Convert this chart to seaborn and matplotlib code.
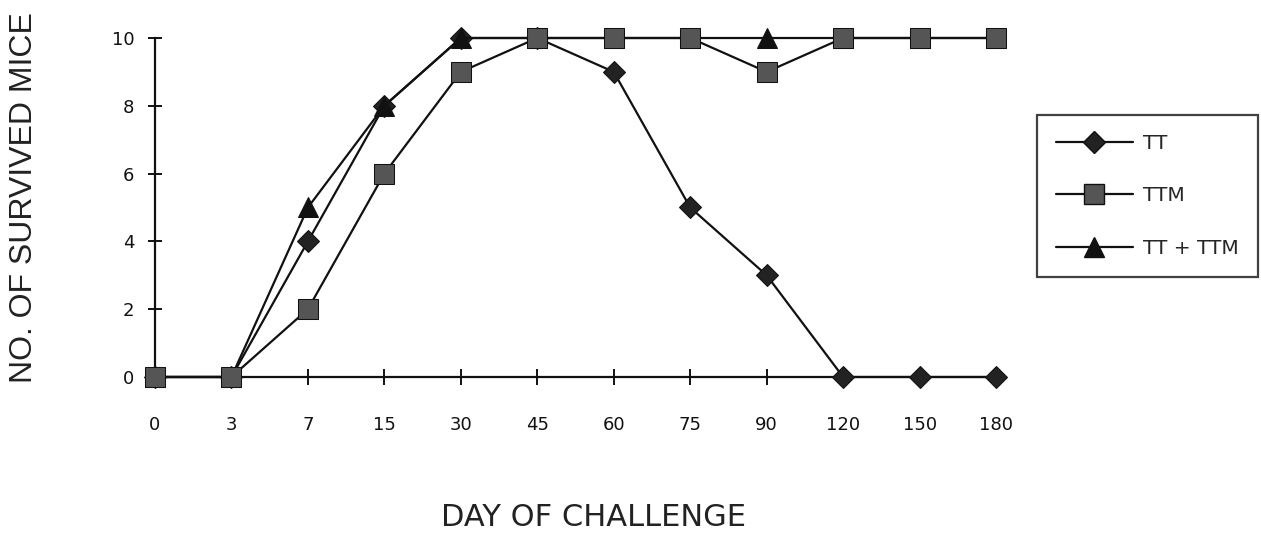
import pandas as pd
import matplotlib
matplotlib.use("Agg")
import matplotlib.pyplot as plt
import seaborn as sns

# data
days = ["0", "3", "7", "15", "30", "45", "60", "75", "90", "120", "150", "180"]
tt = [0, 0, 4, 8, 10, 10, 9, 5, 3, 0, 0, 0]
ttm = [0, 0, 2, 6, 9, 10, 10, 10, 9, 10, 10, 10]
tt_ttm = [0, 0, 5, 8, 10, 10, 10, 10, 10, 10, 10, 10]
groups = ["TT", "TTM", "TT + TTM"]

df = pd.concat([
    pd.DataFrame({"day": days, "mice": tt, "group": "TT"}),
    pd.DataFrame({"day": days, "mice": ttm, "group": "TTM"}),
    pd.DataFrame({"day": days, "mice": tt_ttm, "group": "TT + TTM"}),
])

sns.set_style("white")
plt.rcParams["font.family"] = ["DejaVu Sans"]

fig = plt.figure(figsize=(12.61, 5.33), dpi=100)
ax = fig.add_axes([0.1229, 0.2927, 0.667, 0.636])

sns.lineplot(data=df, x="day", y="mice", hue="group", style="group",
             hue_order=groups, style_order=groups,
             palette=["#111111"] * 3,
             markers={"TT": "D", "TTM": "s", "TT + TTM": "^"},
             dashes=False, sort=False, linewidth=1.6, markersize=14,
             markeredgecolor="#111111", legend=False, ax=ax)

# marker looks and stacking (squares on top)
sizes = {"TT": 11, "TTM": 15, "TT + TTM": 14}
faces = {"TT": "#222222", "TTM": "#555555", "TT + TTM": "#111111"}
zorders = {"TT": 3, "TTM": 5, "TT + TTM": 4}
handles = []
for line, g in zip(ax.lines, groups):
    line.set_markersize(sizes[g])
    line.set_markerfacecolor(faces[g])
    line.set_zorder(zorders[g])
    line.set_clip_on(False)
    h, = ax.plot([], [], color="#111111", lw=1.6, marker=line.get_marker(),
                 markersize=sizes[g], markerfacecolor=faces[g],
                 markeredgecolor="#111111")
    handles.append(h)

ax.set_xlim(0, 11)
ax.set_ylim(0, 10)
ax.set_yticks([0, 2, 4, 6, 8, 10])
sns.despine(ax=ax)
for s in ["left", "bottom"]:
    ax.spines[s].set_color("#111111")
    ax.spines[s].set_linewidth(1.6)

ax.tick_params(axis="x", bottom=True, direction="inout", length=12, width=1.4,
               colors="#111111", labelsize=13, pad=22)
ax.tick_params(axis="y", left=True, direction="inout", length=10, width=1.4,
               colors="#111111", labelsize=13, pad=10)

ax.set_xlabel("")
ax.set_ylabel("")
fig.text(0.471, 0.030, "DAY OF CHALLENGE", fontsize=22, color="#222222",
         ha="center", va="center")
fig.text(0.019, 0.63, "NO. OF SURVIVED MICE", fontsize=23, color="#222222",
         ha="center", va="center", rotation=90, family="Liberation Sans")

leg = fig.legend(handles, groups, loc="upper left",
                 bbox_to_anchor=(0.8224, 0.7842), borderaxespad=0,
                 frameon=True, fancybox=False,
                 edgecolor="#111111", fontsize=14.5, handlelength=3.8,
                 labelspacing=1.65, borderpad=0.95, handletextpad=0.5)
leg.get_frame().set_linewidth(1.6)

fig.savefig("out.png", dpi=100)
